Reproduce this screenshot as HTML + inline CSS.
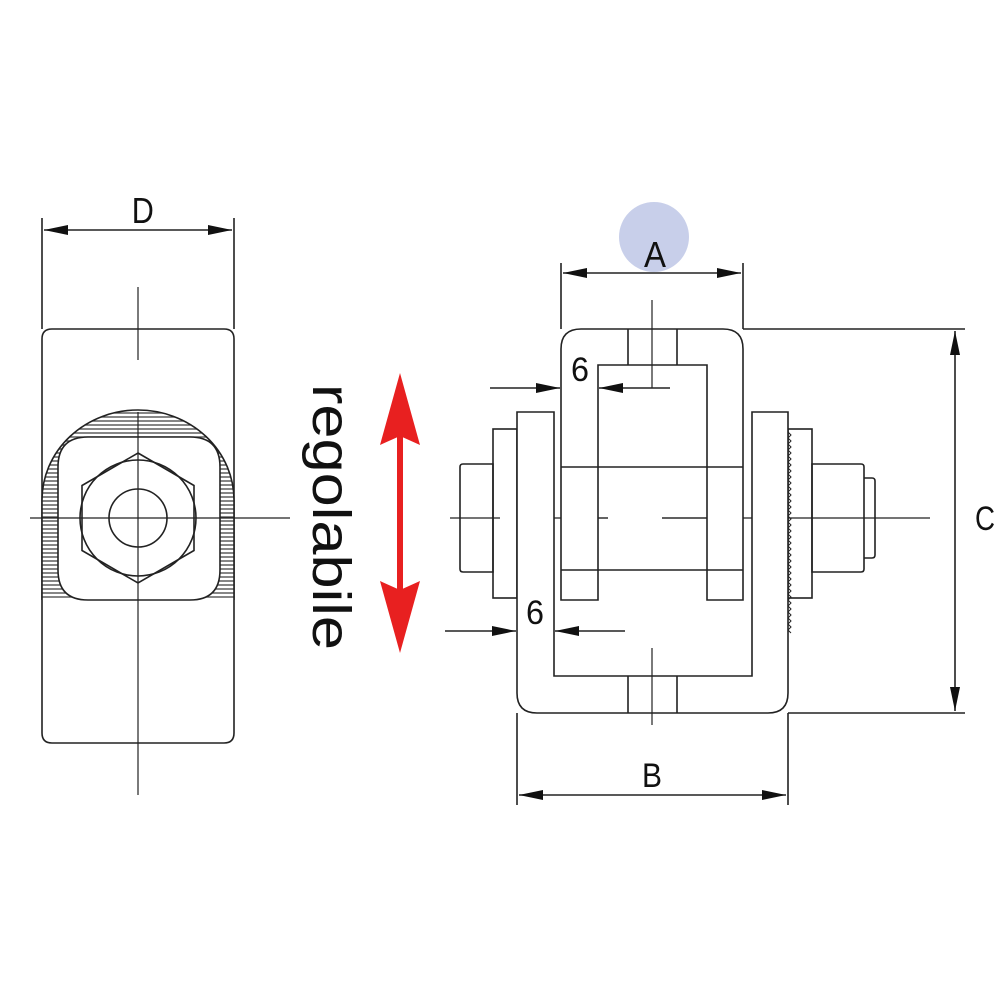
<!DOCTYPE html>
<html><head><meta charset="utf-8"><style>html,body{margin:0;padding:0;background:#fff}svg{display:block}</style></head>
<body>
<svg width="1000" height="1000" viewBox="0 0 1000 1000" xmlns="http://www.w3.org/2000/svg">
<defs>
<marker id="ar" viewBox="0 0 24 10" refX="24" refY="5" markerWidth="24" markerHeight="10" markerUnits="userSpaceOnUse" orient="auto-start-reverse"><path d="M0,0 L24,5 L0,10 Z" fill="#111"/></marker>
<pattern id="hatch" width="6" height="4" patternUnits="userSpaceOnUse"><rect width="6" height="4" fill="#fff"/><line x1="0" y1="1" x2="6" y2="1" stroke="#444" stroke-width="1.3"/></pattern>
<clipPath id="domeclip"><path d="M42,600 L42,500 A96,90 0 0 1 234,500 L234,600 Z"/></clipPath>
</defs>
<g fill="none" stroke="#222" stroke-width="1.6">
<!-- LEFT VIEW -->
<line x1="42" y1="218" x2="42" y2="329"/><line x1="234" y1="218" x2="234" y2="329"/>
<line x1="44" y1="230" x2="232" y2="230" marker-start="url(#ar)" marker-end="url(#ar)"/>
<path d="M52,329 L224,329 Q234,329 234,339 L234,733 Q234,743 224,743 L52,743 Q42,743 42,733 L42,339 Q42,329 52,329 Z"/>
<g clip-path="url(#domeclip)"><rect x="42" y="400" width="192" height="200" fill="url(#hatch)" stroke="none"/></g>
<path d="M42,600 L42,500 A96,90 0 0 1 234,500 L234,600"/>
<path d="M88,437 L190,437 Q220,437 220,467 L220,570 Q220,600 190,600 L88,600 Q58,600 58,570 L58,467 Q58,437 88,437 Z" fill="#fff"/>
<polygon points="138,453 194,485.5 194,550.5 138,583 82,550.5 82,485.5" fill="#fff"/>
<circle cx="138" cy="518" r="58"/>
<circle cx="138" cy="518" r="29"/>
<line x1="138" y1="287" x2="138" y2="360" stroke-width="1.2"/>
<line x1="138" y1="412" x2="138" y2="795" stroke-width="1.2"/>
<line x1="30" y1="518" x2="290" y2="518" stroke-width="1.2"/>
<!-- RIGHT VIEW -->
<!-- centerline -->
<line x1="450" y1="518" x2="500" y2="518" stroke-width="1.2"/>
<line x1="553" y1="518" x2="608" y2="518" stroke-width="1.2"/>
<line x1="662" y1="518" x2="930" y2="518" stroke-width="1.2"/>
<!-- left nut & washer -->
<path d="M463,464 L493,464 L493,572 L463,572 Q460,572 460,569 L460,467 Q460,464 463,464 Z"/>
<rect x="493" y="429" width="24" height="169"/>
<!-- right washer serrated -->
<rect x="788" y="429" width="24" height="169"/>
<path d="M788,432 l3,3 -3,3 3,3 -3,3 3,3 -3,3 3,3 -3,3 3,3 -3,3 3,3 -3,3 3,3 -3,3 3,3 -3,3 3,3 -3,3 3,3 -3,3 3,3 -3,3 3,3 -3,3 3,3 -3,3 3,3 -3,3 3,3 -3,3 3,3 -3,3 3,3 -3,3 3,3 -3,3 3,3 -3,3 3,3 -3,3 3,3 -3,3 3,3 -3,3 3,3 -3,3 3,3 -3,3 3,3 -3,3 3,3 -3,3 3,3 -3,3 3,3 -3,3 3,3 -3,3 3,3 -3,3 3,3 -3,3 3,3 -3,3 3,3 -3,3 3,3" stroke-width="1"/>
<path d="M812,464 L861,464 Q864,464 864,467 L864,569 Q864,572 861,572 L812,572 Z"/>
<path d="M864,478 L872,478 Q875,478 875,481 L875,555 Q875,558 872,558 L864,558"/>
<!-- lower U (B) -->
<path d="M517,412 L554,412 L554,676 L752,676 L752,412 L788,412 L788,693 Q788,713 768,713 L537,713 Q517,713 517,693 Z" fill="#fff"/>
<line x1="628" y1="676" x2="628" y2="713"/><line x1="677" y1="676" x2="677" y2="713"/>
<!-- upper U (A) -->
<path d="M561,600 L561,349 Q561,329 581,329 L723,329 Q743,329 743,349 L743,600 L707,600 L707,365 L598,365 L598,600 Z" fill="#fff"/>
<line x1="628" y1="329" x2="628" y2="365"/><line x1="677" y1="329" x2="677" y2="365"/>
<!-- pin body -->
<line x1="561" y1="467" x2="743" y2="467"/>
<line x1="561" y1="570" x2="598" y2="570"/><line x1="707" y1="570" x2="743" y2="570"/>
<line x1="598" y1="570" x2="707" y2="570"/>
<line x1="598" y1="518" x2="608" y2="518" stroke-width="1.2"/>
<line x1="662" y1="518" x2="707" y2="518" stroke-width="1.2"/>
<!-- center lines -->
<line x1="652" y1="300" x2="652" y2="388" stroke-width="1.2"/>
<line x1="652" y1="648" x2="652" y2="725" stroke-width="1.2"/>
<!-- 6 dims -->
<line x1="490" y1="388" x2="560" y2="388" marker-end="url(#ar)"/>
<line x1="670" y1="388" x2="599" y2="388" marker-end="url(#ar)"/>
<line x1="445" y1="631" x2="516" y2="631" marker-end="url(#ar)"/>
<line x1="625" y1="631" x2="555" y2="631" marker-end="url(#ar)"/>
<!-- A -->
<line x1="561" y1="263" x2="561" y2="329"/><line x1="743" y1="263" x2="743" y2="329"/>
<!-- C -->
<line x1="743" y1="329" x2="965" y2="329"/><line x1="788" y1="713" x2="965" y2="713"/>
<line x1="955" y1="331" x2="955" y2="711" marker-start="url(#ar)" marker-end="url(#ar)"/>
<!-- B -->
<line x1="517" y1="713" x2="517" y2="805"/><line x1="788" y1="713" x2="788" y2="805"/>
<line x1="519" y1="795" x2="786" y2="795" marker-start="url(#ar)" marker-end="url(#ar)"/>
</g>
<circle cx="654" cy="237" r="35" fill="#c8cfea"/>
<line x1="563" y1="273" x2="741" y2="273" stroke="#222" stroke-width="1.6" marker-start="url(#ar)" marker-end="url(#ar)"/>
<g font-family="Liberation Sans, sans-serif" fill="#111" text-anchor="middle">
<text x="143" y="223" font-size="36" transform="scale(0.85,1) translate(25,0)">D</text>
<text x="655" y="267" font-size="36" textLength="22" lengthAdjust="spacingAndGlyphs">A</text>
<text x="652" y="787" font-size="34" textLength="20" lengthAdjust="spacingAndGlyphs">B</text>
<text x="985" y="530" font-size="34" textLength="20" lengthAdjust="spacingAndGlyphs">C</text>
<text x="580" y="381" font-size="34" textLength="18" lengthAdjust="spacingAndGlyphs">6</text>
<text x="535" y="624" font-size="34" textLength="18" lengthAdjust="spacingAndGlyphs">6</text>
<text x="0" y="0" font-size="54" text-anchor="start" textLength="266" lengthAdjust="spacingAndGlyphs" transform="translate(313,384) rotate(90)">regolabile</text>
</g>
<!-- red arrow -->
<g fill="#e82020">
<rect x="397" y="430" width="6" height="165"/>
<path d="M400,373 L420,445 L400,436 L380,445 Z"/>
<path d="M400,653 L420,581 L400,590 L380,581 Z"/>
</g>
</svg>
</body></html>
